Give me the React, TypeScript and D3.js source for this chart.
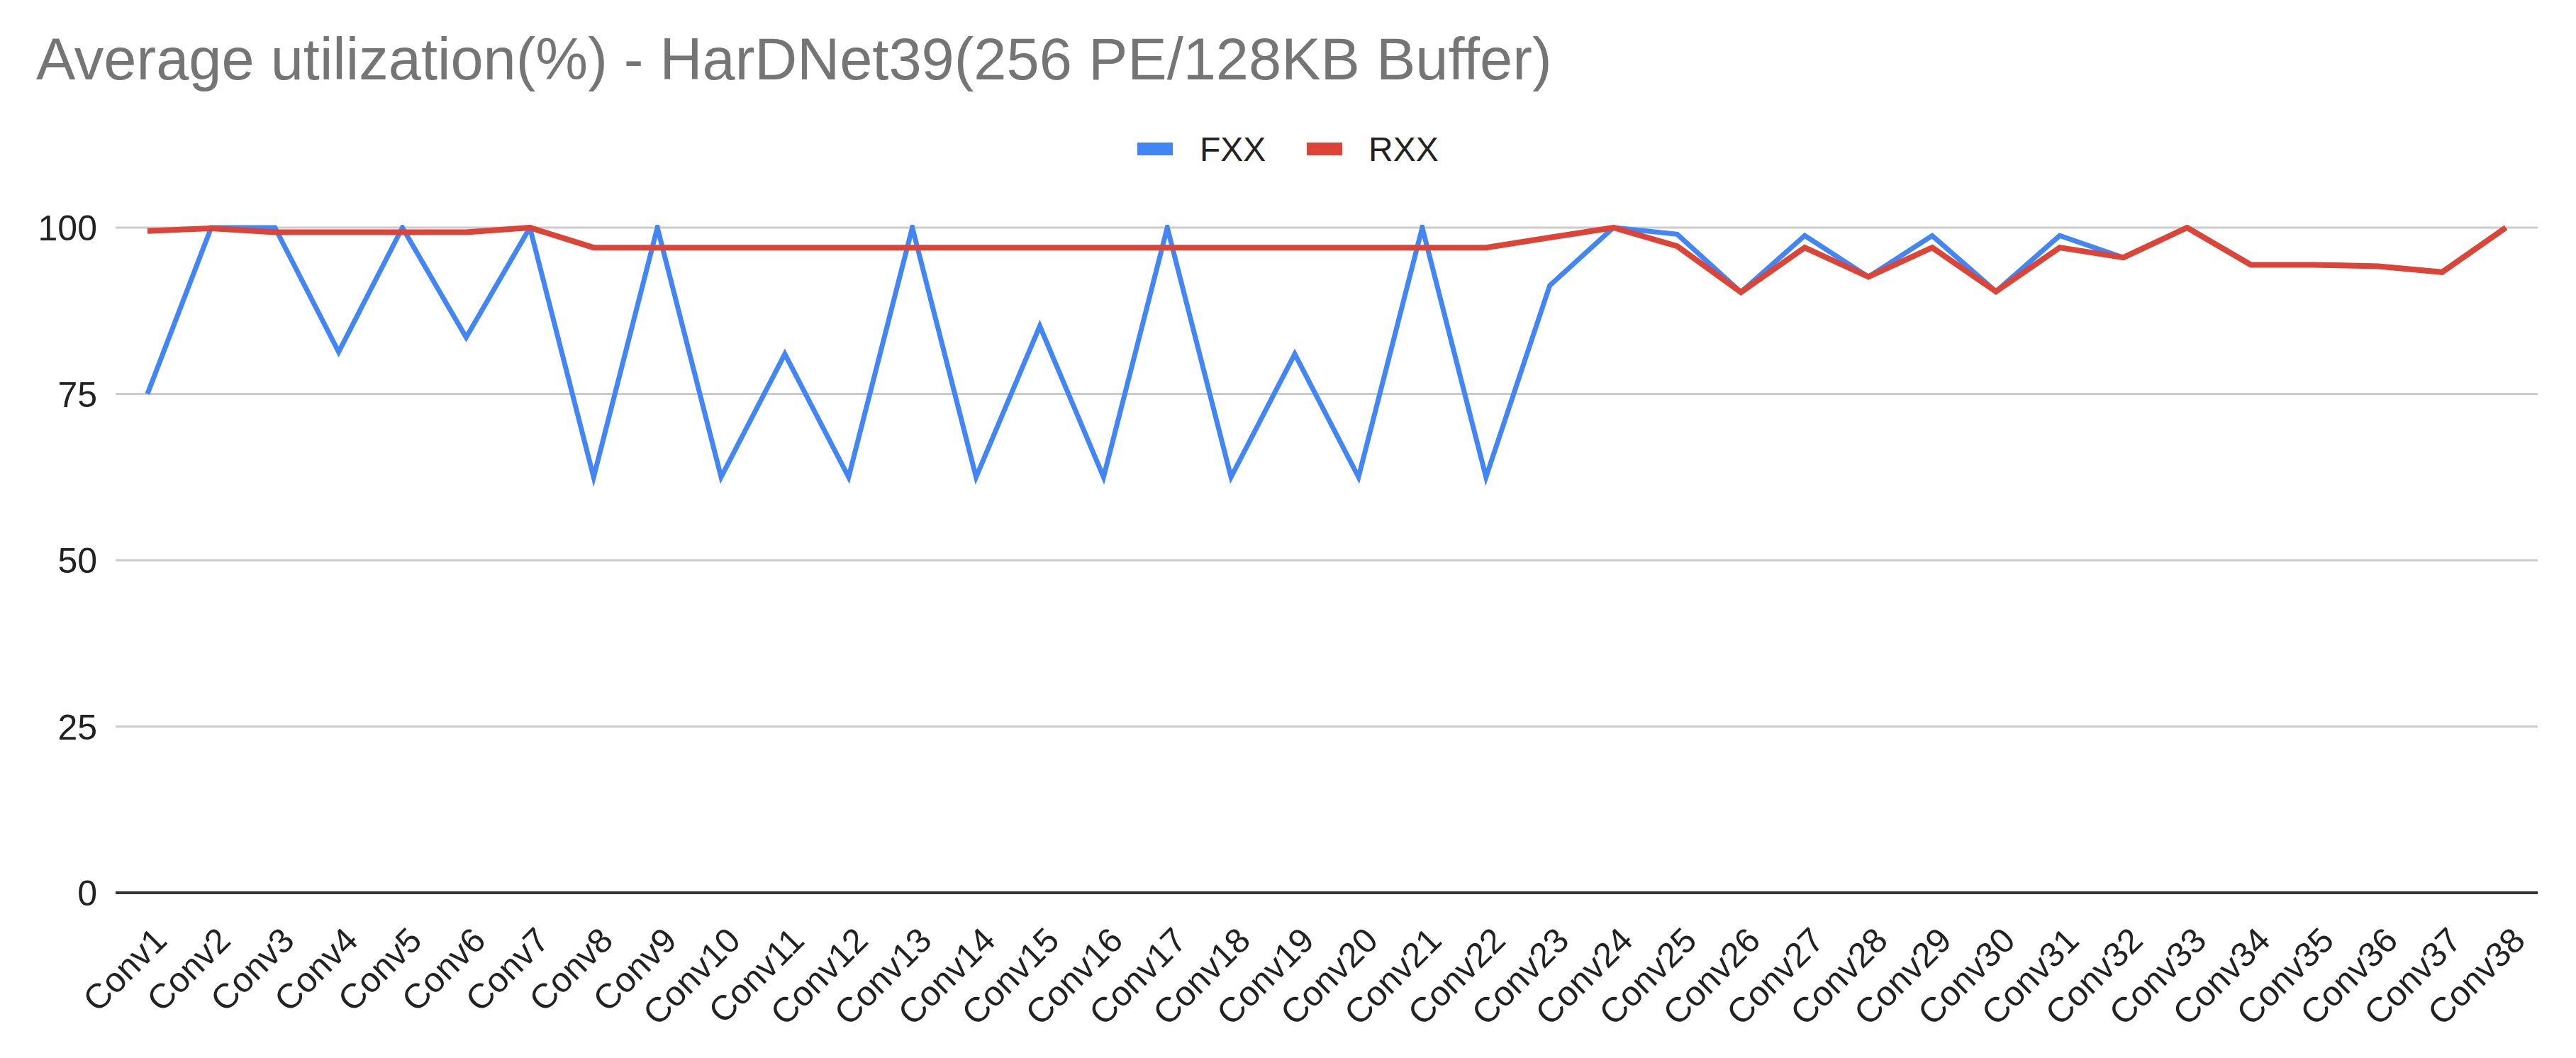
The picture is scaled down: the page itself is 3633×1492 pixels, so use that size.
import { useEffect, useRef } from "react"
import * as d3 from "d3"

const W = 3633
const H = 1492

const categories = [
  "Conv1", "Conv2", "Conv3", "Conv4", "Conv5", "Conv6", "Conv7", "Conv8", "Conv9", "Conv10",
  "Conv11", "Conv12", "Conv13", "Conv14", "Conv15", "Conv16", "Conv17", "Conv18", "Conv19", "Conv20",
  "Conv21", "Conv22", "Conv23", "Conv24", "Conv25", "Conv26", "Conv27", "Conv28", "Conv29", "Conv30",
  "Conv31", "Conv32", "Conv33", "Conv34", "Conv35", "Conv36", "Conv37", "Conv38",
]

const fxxValues = [
  75, 100, 100, 81.3, 100, 83.5, 100, 62.5, 100, 62.5,
  81, 62.5, 100, 62.5, 85.2, 62.5, 100, 62.5, 81, 62.5,
  100, 62.5, 91.3, 100, 99, 90.3, 98.8, 92.6, 98.8, 90.4,
  98.8, 95.5, 100, 94.4, 94.4, 94.2, 93.3, 100,
]

const rxxValues = [
  99.5, 99.9, 99.3, 99.3, 99.3, 99.3, 100, 97, 97, 97,
  97, 97, 97, 97, 97, 97, 97, 97, 97, 97,
  97, 97, 98.5, 100, 97.2, 90.3, 97, 92.6, 97, 90.4,
  97, 95.5, 100, 94.4, 94.4, 94.2, 93.3, 100,
]

const yTicks = [0, 25, 50, 75, 100]
const seriesNames = ["FXX", "RXX"]
const seriesColors = ["#4285f4", "#db4437"]

const FONT = "'Liberation Sans', Arial, sans-serif"

export default function App() {
  const svgRef = useRef<SVGSVGElement>(null)

  useEffect(() => {
    document.body.style.margin = "0"
    if (!svgRef.current) return
    const svg = d3.select(svgRef.current)
    svg.selectAll("*").remove()

    // plot area
    const left = 163
    const right = 3579
    const top = 321
    const bottom = 1259

    const x = d3.scalePoint<string>().domain(categories).range([left, right]).padding(0.5)
    const y = d3.scaleLinear().domain([0, 100]).range([bottom, top])

    svg.append("rect").attr("width", W).attr("height", H).attr("fill", "#ffffff")

    // title
    svg
      .append("text")
      .attr("x", 51)
      .attr("y", 112)
      .attr("fill", "#757575")
      .style("font-family", FONT)
      .style("font-size", "83px")
      .text("Average utilization(%) - HarDNet39(256 PE/128KB Buffer)")

    // legend
    const legendItems = [
      { rx: 1604, tx: 1692 },
      { rx: 1843, tx: 1930 },
    ]
    const legend = svg.append("g")
    legendItems.forEach((it, i) => {
      legend
        .append("rect")
        .attr("x", it.rx)
        .attr("y", 201)
        .attr("width", 50)
        .attr("height", 18)
        .attr("fill", seriesColors[i])
      legend
        .append("text")
        .attr("x", it.tx)
        .attr("y", 227)
        .attr("fill", "#222222")
        .style("font-family", FONT)
        .style("font-size", "48px")
        .text(seriesNames[i])
    })

    // gridlines
    svg
      .append("g")
      .selectAll("line")
      .data(yTicks.filter((t) => t !== 0))
      .enter()
      .append("line")
      .attr("x1", left)
      .attr("x2", right)
      .attr("y1", (d) => y(d))
      .attr("y2", (d) => y(d))
      .attr("stroke", "#cccccc")
      .attr("stroke-width", 3)

    // y tick labels
    svg
      .append("g")
      .selectAll("text")
      .data(yTicks)
      .enter()
      .append("text")
      .attr("x", 137)
      .attr("y", (d) => y(d))
      .attr("dy", "0.36em")
      .attr("text-anchor", "end")
      .attr("fill", "#222222")
      .style("font-family", FONT)
      .style("font-size", "50px")
      .text((d) => d)

    // x labels
    svg
      .append("g")
      .selectAll("text")
      .data(categories)
      .enter()
      .append("text")
      .attr("transform", (d) => `translate(${(x(d) as number) + 30},${bottom + 70}) rotate(-45)`)
      .attr("text-anchor", "end")
      .attr("fill", "#222222")
      .style("font-family", FONT)
      .style("font-size", "49px")
      .text((d) => d)

    // clip so lines do not poke above the top of the chart area
    svg
      .append("clipPath")
      .attr("id", "plot-clip")
      .append("rect")
      .attr("x", left - 20)
      .attr("y", top - 4)
      .attr("width", right - left + 40)
      .attr("height", bottom - top + 30)

    const line = d3
      .line<number>()
      .x((_, i) => x(categories[i]) as number)
      .y((d) => y(d))

    const lines = svg.append("g").attr("clip-path", "url(#plot-clip)")
    ;[fxxValues, rxxValues].forEach((vals, i) => {
      lines
        .append("path")
        .datum(vals)
        .attr("d", line)
        .attr("fill", "none")
        .attr("stroke", seriesColors[i])
        .attr("stroke-width", i === 0 ? 7 : 8)
        .attr("stroke-linejoin", "miter")
        .attr("stroke-miterlimit", 10)
    })

    // zero baseline
    svg
      .append("line")
      .attr("x1", left)
      .attr("x2", right)
      .attr("y1", y(0))
      .attr("y2", y(0))
      .attr("stroke", "#333333")
      .attr("stroke-width", 4)
  }, [])

  return <svg ref={svgRef} width={W} height={H} style={{ display: "block" }} />
}
